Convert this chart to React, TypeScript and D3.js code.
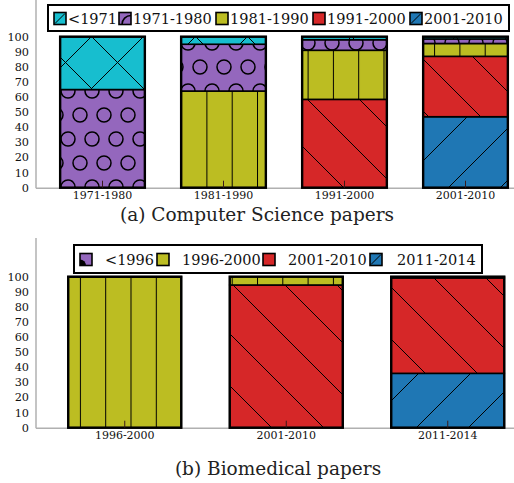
import React from 'react';
import * as d3 from 'd3';

const TOP_CATEGORIES = ['1971-1980', '1981-1990', '1991-2000', '2001-2010'];
const TOP_SERIES = ['<1971', '1971-1980', '1981-1990', '1991-2000', '2001-2010'];
const TOP_LT1971 = [35, 5, 2, 1.5];
const TOP_1971_1980 = [65, 31, 7, 3];
const TOP_1981_1990 = [0, 64, 32.5, 8.5];
const TOP_1991_2000 = [0, 0, 58.5, 40];
const TOP_2001_2010 = [0, 0, 0, 47];

const BOT_CATEGORIES = ['1996-2000', '2001-2010', '2011-2014'];
const BOT_SERIES = ['<1996', '1996-2000', '2001-2010', '2011-2014'];
const BOT_LT1996 = [0.3, 0, 0];
const BOT_1996_2000 = [99.7, 5.5, 0.8];
const BOT_2001_2010 = [0, 94.5, 63.2];
const BOT_2011_2014 = [0, 0, 36];

const Y_TICKS = [0, 10, 20, 30, 40, 50, 60, 70, 80, 90, 100];

const C_CYAN = '#17becf';
const C_PURPLE = '#9467bd';
const C_OLIVE = '#bcbd22';
const C_RED = '#d62728';
const C_BLUE = '#1f77b4';

const FONT = 'DejaVu Serif, serif';

type Hatch = 'x' | 'o' | '|' | '\\' | '/';

function Patterns() {
  const P = 52;
  return (
    <defs>
      <pattern id="h-x" patternUnits="userSpaceOnUse" width={P} height={P} patternTransform="translate(3,0)">
        <path d={`M0,0L${P},${P}M${-2},${P - 2}L2,${P + 2}M${P - 2},-2L${P + 2},2`} stroke="#000" strokeWidth={1} />
        <path d={`M0,${P}L${P},0M-2,2L2,-2M${P - 2},${P + 2}L${P + 2},${P - 2}`} stroke="#000" strokeWidth={1} transform="translate(21,0)" />
        <path d={`M${-P},${P}L0,0`} stroke="#000" strokeWidth={1} transform="translate(21,0)" />
      </pattern>
      <pattern id="h-o" patternUnits="userSpaceOnUse" width={24} height={48}>
        <circle cx={8} cy={19} r={7} fill="none" stroke="#000" strokeWidth={1.5} />
        <circle cx={20} cy={43} r={7} fill="none" stroke="#000" strokeWidth={1.5} />
        <circle cx={20} cy={-5} r={7} fill="none" stroke="#000" strokeWidth={1.5} />
        <circle cx={-4} cy={43} r={7} fill="none" stroke="#000" strokeWidth={1.5} />
        <circle cx={-4} cy={-5} r={7} fill="none" stroke="#000" strokeWidth={1.5} />
        <circle cx={32} cy={19} r={7} fill="none" stroke="#000" strokeWidth={1.5} />
      </pattern>
      <pattern id="h-v" patternUnits="userSpaceOnUse" width={25.3} height={50} x={4}>
        <path d="M0.5,0V50" stroke="#000" strokeWidth={1} />
      </pattern>
      <pattern id="h-b" patternUnits="userSpaceOnUse" width={P} height={P}>
        <path d={`M0,0L${P},${P}M-2,${P - 2}L2,${P + 2}M${P - 2},-2L${P + 2},2`} stroke="#000" strokeWidth={1} />
      </pattern>
      <pattern id="h-f" patternUnits="userSpaceOnUse" width={P} height={P} patternTransform="translate(12,0)">
        <path d={`M0,${P}L${P},0M-2,2L2,-2M${P - 2},${P + 2}L${P + 2},${P - 2}`} stroke="#000" strokeWidth={1} />
      </pattern>
    </defs>
  );
}

const hatchId: Record<Hatch, string> = { x: 'h-x', o: 'h-o', '|': 'h-v', '\\': 'h-b', '/': 'h-f' };

function Swatch({ x, y, color, kind }: { x: number; y: number; color: string; kind: string }) {
  const s = 12;
  let extra: React.ReactNode = null;
  if (kind === 'diag') extra = <path d={`M${x + 1},${y + s - 1}L${x + s - 1},${y + 1}`} stroke="#000" strokeWidth={1} />;
  if (kind === 'arc') extra = <path d={`M${x + 3},${y + s}A9,9 0 0 1 ${x + s},${y + 3}`} fill="none" stroke="#000" strokeWidth={1.5} />;
  if (kind === 'blob') extra = <path d={`M${x},${y + 6}A6,6 0 0 1 ${x + 6},${y + s}L${x},${y + s}Z`} fill="#000" />;
  return (
    <g>
      <rect x={x} y={y} width={s} height={s} fill={color} />
      {extra}
      <rect x={x} y={y} width={s} height={s} fill="none" stroke="#000" strokeWidth={1.6} />
    </g>
  );
}

interface PanelProps {
  categories: string[];
  series: string[];
  values: number[][];
  colors: string[];
  hatches: Hatch[];
  xRange: [number, number];
  y0: number;
  y100: number;
  axisTop: number;
  title: string;
  titleX: number;
  titleY: number;
  legendBox: [number, number, number, number];
  legendSwatchX: number[];
  legendTextX: number[];
  legendSwatchY: number;
  legendTextY: number;
  swatchKinds: string[];
}

function Panel(p: PanelProps) {
  const x = d3.scaleBand<string>().domain(p.categories).range(p.xRange).paddingInner(0.3).paddingOuter(0.15);
  const y = d3.scaleLinear().domain([0, 100]).range([p.y0, p.y100]);
  const rows = p.categories.map((c, i) => {
    const r: Record<string, number | string> = { cat: c };
    p.series.forEach((s, j) => (r[s] = p.values[j][i]));
    return r;
  });
  const keys = [...p.series].reverse();
  const stack = d3.stack<Record<string, number | string>>().keys(keys)(rows as any);
  const axisColor = '#b0b0b0';
  const bw = x.bandwidth();
  return (
    <g>
      <line x1={36} x2={36} y1={p.axisTop} y2={p.y0 + 0.5} stroke={axisColor} strokeWidth={1.5} />
      <line x1={36} x2={514} y1={p.y0 + 0.5} y2={p.y0 + 0.5} stroke={axisColor} strokeWidth={1.5} />
      {Y_TICKS.map((t) => (
        <text key={t} x={29} y={y(t)} dy="0.35em" textAnchor="end" fontFamily={FONT} fontSize={11.3} fill="#111">
          {t}
        </text>
      ))}
      {stack.map((layer) => {
        const si = p.series.indexOf(layer.key);
        return layer.map((d, i) => {
          const cat = p.categories[i];
          const h = y(d[0]) - y(d[1]);
          if (h <= 0) return null;
          const bx = x(cat)!;
          return (
            <g key={layer.key + cat}>
              <rect x={bx} y={y(d[1])} width={bw} height={h} fill={p.colors[si]} />
              <rect x={bx} y={y(d[1])} width={bw} height={h} fill={`url(#${hatchId[p.hatches[si]]})`} />
              <rect x={bx} y={y(d[1])} width={bw} height={h} fill="none" stroke="#000" strokeWidth={1.6} />
            </g>
          );
        });
      })}
      {p.categories.map((c) => (
        <g key={c}>
          <rect x={x(c)!} y={y(100)} width={bw} height={y(0) - y(100)} fill="none" stroke="#000" strokeWidth={2.4} />
          <line x1={x(c)! + bw / 2} x2={x(c)! + bw / 2} y1={p.y0} y2={p.y0 - 7} stroke="#3a1a1a" strokeWidth={1} />
          <text x={x(c)! + bw / 2} y={p.y0 + 11.5} textAnchor="middle" fontFamily={FONT} fontSize={11} fill="#111">
            {c}
          </text>
        </g>
      ))}
      <text x={p.titleX} y={p.titleY} textAnchor="middle" fontFamily={FONT} fontSize={18.5} fill="#222">
        {p.title}
      </text>
      <rect
        x={p.legendBox[0]}
        y={p.legendBox[1]}
        width={p.legendBox[2] - p.legendBox[0]}
        height={p.legendBox[3] - p.legendBox[1]}
        fill="#fff"
        stroke="#000"
        strokeWidth={2}
      />
      {p.series.map((s, i) => (
        <g key={s}>
          <Swatch x={p.legendSwatchX[i]} y={p.legendSwatchY} color={p.colors[i]} kind={p.swatchKinds[i]} />
          <text x={p.legendTextX[i]} y={p.legendTextY} fontFamily={FONT} fontSize={14.5} fill="#111">
            {s}
          </text>
        </g>
      ))}
    </g>
  );
}

export default function App() {
  return (
    <svg width={514} height={483} style={{ position: 'absolute', left: 0, top: 0, background: '#fff' }}>
      <Patterns />
      <Panel
        categories={TOP_CATEGORIES}
        series={TOP_SERIES}
        values={[TOP_LT1971, TOP_1971_1980, TOP_1981_1990, TOP_1991_2000, TOP_2001_2010]}
        colors={[C_CYAN, C_PURPLE, C_OLIVE, C_RED, C_BLUE]}
        hatches={['x', 'o', '|', '\\', '/']}
        xRange={[42, 526]}
        y0={187.7}
        y100={36.7}
        axisTop={0}
        title="(a) Computer Science papers"
        titleX={257}
        titleY={221}
        legendBox={[48, 5, 509, 31]}
        legendSwatchX={[54, 119, 216, 313, 410]}
        legendTextX={[68, 133, 230, 327, 424]}
        legendSwatchY={12.5}
        legendTextY={23.5}
        swatchKinds={['diag', 'arc', 'none', 'none', 'diag']}
      />
      <Panel
        categories={BOT_CATEGORIES}
        series={BOT_SERIES}
        values={[BOT_LT1996, BOT_1996_2000, BOT_2001_2010, BOT_2011_2014]}
        colors={[C_PURPLE, C_OLIVE, C_RED, C_BLUE]}
        hatches={['o', '|', '\\', '/']}
        xRange={[44, 528.5]}
        y0={427.7}
        y100={276.7}
        axisTop={238}
        title="(b) Biomedical papers"
        titleX={278}
        titleY={474.5}
        legendBox={[74, 245, 482, 273]}
        legendSwatchX={[80, 157, 263, 370]}
        legendTextX={[105, 182, 288, 397]}
        legendSwatchY={253.5}
        legendTextY={264.5}
        swatchKinds={['blob', 'none', 'none', 'diag']}
      />
    </svg>
  );
}
